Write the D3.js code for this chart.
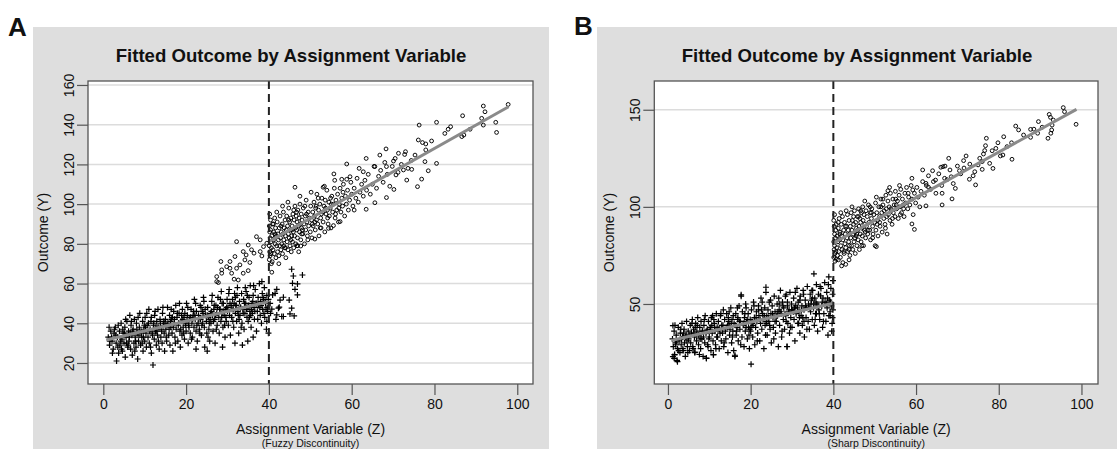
<!DOCTYPE html>
<html>
<head>
<meta charset="utf-8">
<script src="https://cdn.jsdelivr.net/npm/d3@7"></script>
<style>
  body { margin: 0; background: #fff; }
  svg text { font-family: "Liberation Sans", Arial, Helvetica, sans-serif; fill: #111; }
</style>
</head>
<body>
<script>
(function(){

  //tick values and labels
  var xTicks = [0, 20, 40, 60, 80, 100];
  var yTicksA = [20, 40, 60, 80, 100, 120, 140, 160];
  var yTicksB = [50, 100, 150];
  var cutoff = 40;

  var titleText = "Fitted Outcome by Assignment Variable";
  var xTitle = "Assignment Variable (Z)";
  var yTitle = "Outcome (Y)";
  var noteA = "(Fuzzy Discontinuity)";
  var noteB = "(Sharp Discontinuity)";

  //fitted lines [z, y]
  var fitLeftA = [[0.7,31.6],[40,50.9]];
  var fitRightA = [[40,81.1],[97.9,149]];
  var fitLeftB = [[0.8,31.2],[40,50.4]];
  var fitRightB = [[40,81.3],[98.8,150.2]];

  //panel A: untreated (+) points
  var crossesA = [
    [1.2,33],[1.5,29],[1.8,36],[2.1,31],[2.4,27],[2.6,35],[2.9,38],[3.1,30],[3.2,21],[3.4,33],[3.7,25],[3.9,36],[4.0,29],[4.3,40],[4.5,32],[4.6,26],[4.8,35],[5.0,30],[5.2,38],[5.3,23],[5.5,33],[5.7,41],[5.9,28],
    [6.1,36],[6.2,31],[6.4,44],[6.6,27],[6.7,39],[6.9,34],[7.0,24],[7.2,37],[7.4,30],[7.5,42],[7.7,33],[7.9,28],[8.0,40],[8.2,35],[8.3,22],[8.5,31],[8.7,38],[8.8,45],[9.0,29],[9.1,36],[9.3,33],[9.5,41],[9.6,26],[9.8,37],[10.0,31],[10.1,43],[10.3,35],[10.4,28],[10.6,39],[10.8,33],
    [11.0,47],[11.1,30],[11.3,37],[11.5,41],[11.6,25],[11.8,35],[12.0,19],[12.1,39],[12.3,32],[12.4,44],[12.6,36],[12.8,29],[12.9,41],[13.1,34],[13.2,47],[13.4,38],[13.5,27],[13.7,42],[13.9,33],[14.0,37],[14.2,30],[14.3,45],[14.5,39],[14.7,35],[14.8,26],[15.0,42],[15.1,37],[15.3,31],[15.5,48],[15.6,40],[15.8,34],
    [16.0,44],[16.1,29],[16.3,38],[16.5,42],[16.6,35],[16.8,26],[17.0,46],[17.1,40],[17.3,33],[17.5,49],[17.6,37],[17.8,43],[18.0,31],[18.1,39],[18.3,45],[18.5,36],[18.6,28],[18.8,41],[19.0,34],[19.1,47],[19.3,38],[19.5,43],[19.6,32],[19.8,40],[20.0,36],[20.1,50],[20.3,44],[20.5,30],[20.6,39],[20.8,42],
    [21.0,35],[21.2,47],[21.4,40],[21.5,33],[21.7,44],[21.9,38],[22.0,52],[22.2,42],[22.4,36],[22.5,46],[22.7,31],[22.9,40],[23.0,44],[23.2,37],[23.4,49],[23.5,42],[23.7,34],[23.9,46],[24.0,40],[24.2,53],[24.4,38],[24.5,28],[24.7,44],[24.9,41],[25.0,35],[25.2,48],[25.4,43],[25.5,37],[25.7,31],[25.9,45],
    [26.0,40],[26.2,51],[26.4,44],[26.5,36],[26.7,47],[26.9,42],[27.0,30],[27.2,49],[27.4,45],[27.5,39],[27.7,53],[27.9,43],[28.0,35],[28.2,47],[28.4,41],[28.5,56],[28.7,45],[28.9,38],[29.0,50],[29.2,44],[29.4,33],[29.5,47],[29.7,41],[29.9,52],[30.0,46],[30.2,39],[30.4,57],[30.5,44],[30.7,34],[30.9,49],
    [31.0,43],[31.2,52],[31.4,47],[31.5,38],[31.7,55],[31.9,45],[32.0,49],[32.2,41],[32.4,58],[32.5,46],[32.7,35],[32.9,51],[33.0,44],[33.2,48],[33.4,55],[33.5,40],[33.7,47],[33.9,52],[34.0,37],[34.2,45],[34.4,50],[34.5,56],[34.7,43],[34.9,48],[35.0,41],[35.2,53],[35.4,46],[35.5,59],[35.7,38],[35.9,50],
    [36.0,45],[36.2,54],[36.4,48],[36.5,42],[36.7,57],[36.9,50],[37.0,36],[37.2,46],[37.4,53],[37.5,49],[37.7,60],[37.9,44],[38.0,51],[38.2,40],[38.4,55],[38.5,47],[38.7,52],[38.9,58],[39.0,43],[39.2,50],[39.4,37],[39.5,54],[39.7,46],[39.9,35],[39.9,52],
    [22.4,27],[25.1,26],[33.6,29],[36.2,33],[34.9,31],[31.8,30],[28.8,28],
    [2.0,33],[3.0,34],[4.2,31],[5.1,35],[6.3,33],[7.1,36],[8.1,37],[9.2,35],[10.2,38],[11.2,36],[12.2,40],[13.0,38],[13.8,40],[14.6,41],[15.4,39],[16.2,41],[17.2,42],[18.2,40],[19.2,42],[20.2,41],[21.1,43],[22.1,44],[23.1,42],[24.1,45],[25.1,44],[26.1,46],[27.1,44],[28.1,47],[29.1,46],[30.1,48],[31.1,47],[32.1,49],[33.1,48],[34.1,50],[35.1,49],[36.1,51],[37.1,50],[38.1,49],[39.1,51],
    [1.6,31],[4.7,37],[7.8,31],[9.9,39],[11.9,34],[14.1,36],[16.9,38],[18.9,44],[20.7,38],[22.6,39],[24.6,47],[26.6,41],[28.6,43],[30.6,50],[32.6,44],[34.6,47],[36.6,46],[38.6,53],[39.6,48],
    [2.7,37],[5.6,30],[8.6,34],[10.9,40],[12.7,38],[15.9,37],[17.9,45],[19.7,45],[21.6,42],[23.6,48],[25.6,40],[27.6,48],[29.6,43],[31.6,50],[33.8,45],[35.8,47],[37.8,48],[39.3,47],
    [1.4,38],[2.2,25],[3.6,39],[4.4,27],[5.4,42],[6.0,29],[6.8,41],[7.6,26],[8.4,43],[9.4,30],[10.5,45],[11.4,28],[12.5,46],[13.3,31],[14.4,48],[15.2,33],[16.4,47],[17.4,30],[18.4,50],[19.4,35],[20.4,48],[21.3,32],[22.3,50],[23.3,35],[24.3,51],[25.3,33],[26.3,54],[27.3,37],[28.3,52],[29.3,39],[30.3,55],[31.3,41],[32.3,54],[33.3,38],[34.3,58],[35.3,43],[36.3,59],[37.3,42],[38.3,61],[39.5,41],
    [3.5,28],[6.5,35],[9.7,33],[12.9,36],[16.7,43],[19.9,39],[23.8,39],[26.8,49],[29.8,48],[32.8,42],[35.6,44],[38.8,45],[11.6,43],[14.9,40],[18.7,37],[21.8,46],[25.8,42],[28.7,50],[31.9,53],[34.8,54],
    //fuzzy: untreated beyond the cutoff
    [45.5,67.2],[45.9,63.8],[48.1,64.3],[45.7,60.1],[46.9,59.8],[46.3,57.1],[46.9,54.3],[44.9,51.7],[43.5,53.1],[42.7,51.7],[41.9,57.1],[41.5,55.1],[40.9,54.3],[42.5,48.1],[40.7,47.1],[41.9,44.2],[43.1,43.4],[41.7,42],[45.5,47.6],[46.1,43.7],[45.1,44.7],[40.3,50],[40.4,45],[42.3,47.6],[43.5,43.4]
  ];

  //panel A: treated (o) points
  var circlesA = [
    //fuzzy: treated before the cutoff
    [32.2,81.1],[35,79.4],[37.9,82],[37,83.6],[38.7,78.6],[35.8,77],[33.8,76.1],[31.8,73.6],[34.2,71.9],[30.6,71.1],[29.8,68.5],[28.6,66.9],[27.4,63.5],[27.8,60.5],[31.6,62.2],[32.6,61.8],[33.8,65.2],[35,66.5],[31,65.2],[32.2,67.7],[28.4,71.1],[34.5,74.4],[36.4,75.3],[37.9,76.1],[39.5,80.3],[28.6,65.2],[35.4,70.6],[33,69.4],[30.6,67.7],[27.4,61],[38.3,73.9],
    [40.1,72],[40.2,76],[40.1,79],[40.3,83],[40.2,86],[40.1,89],[40.4,92],[40.3,74],[40.5,81],[40.6,78],[40.4,87],[40.7,84],[40.8,71],[40.9,90],[41.0,77],[41.1,82],[41.2,86],[41.3,75],[41.4,93],[41.5,80],[41.6,88],[41.7,73],[41.8,84],[41.9,79],[42.0,91],[42.1,76],[42.2,85],[42.3,82],[42.4,70],[42.5,88],[42.6,79],[42.7,94],[42.8,83],[42.9,77],[43.0,86],
    [43.1,80],[43.2,90],[43.3,75],[43.4,85],[43.5,96],[43.6,82],[43.7,88],[43.8,78],[43.9,92],[44.0,84],[44.1,73],[44.2,87],[44.3,94],[44.4,81],[44.5,89],[44.6,77],[44.7,85],[44.8,98],[44.9,83],[45.0,91],[45.1,79],[45.2,87],[45.3,93],[45.4,76],[45.5,84],[45.6,89],[45.7,81],[45.8,95],[45.9,86],[46.0,78],
    [46.1,92],[46.2,84],[46.3,99],[46.4,88],[46.5,80],[46.6,94],[46.7,87],[46.8,91],[46.9,83],[47.0,97],[47.1,89],[47.2,76],[47.3,93],[47.4,86],[47.5,100],[47.6,90],[47.7,82],[47.8,95],[47.9,88],[48.0,92],[48.2,85],[48.3,98],[48.5,90],[48.6,80],[48.8,94],[48.9,87],[49.0,102],[49.2,91],[49.3,84],[49.5,96],[49.6,89],[49.8,93],[50.0,86],[50.1,99],[50.3,92],
    [50.4,83],[50.6,96],[50.7,89],[50.9,101],[51.0,94],[51.2,87],[51.3,98],[51.5,92],[51.6,105],[51.8,90],[52.0,97],[52.1,84],[52.3,100],[52.5,93],[52.6,88],[52.8,103],[53.0,96],[53.1,91],[53.3,99],[53.5,86],[53.6,102],[53.8,95],[54.0,107],[54.1,97],[54.3,90],[54.5,101],[54.6,94],[54.8,98],[55.0,88],[55.2,104],
    [55.4,96],[55.6,100],[55.8,108],[56.0,93],[56.2,102],[56.4,97],[56.6,105],[56.8,91],[57.0,100],[57.2,108],[57.4,96],[57.6,103],[57.8,99],[58.0,110],[58.3,94],[58.5,104],[58.7,100],[59.0,107],[59.2,97],[59.5,102],[59.8,111],[60.0,105],[60.3,99],[60.6,108],[61.0,103],[61.3,113],[61.6,101],[62.0,106],[62.4,110],[62.8,104],
    [63.2,112],[63.6,107],[64.0,115],[64.5,105],[65.0,110],[65.4,119],[66.0,108],[66.5,114],[67.0,117],[67.6,111],[68.0,121],[68.6,115],[69.2,109],[69.8,119],[70.5,123],[71.2,116],[72.0,120],[72.8,125],[73.6,118],[74.4,122],
    [40.2,95],[40.6,70],[41.1,90],[41.9,96],[42.4,74],[43.3,99],[44.0,78],[44.6,101],[45.3,82],[46.0,97],[46.8,79],[47.5,104],[48.1,87],[48.7,99],[49.4,82],[50.2,106],[51.1,91],[51.9,103],[52.7,95],[53.4,109],[54.2,93],[55.1,100],[55.9,112],[56.9,98],[57.9,106],[40.5,75],[41.5,85],[42.9,89],[43.6,79],[44.8,92],[45.6,87],[46.7,96],[47.9,85],[49.1,95],[50.5,90],[51.4,99],[52.4,88],[53.7,98],[54.9,103],[56.1,95],
    [97.8,150.2],[91.8,149.4],[92.2,146.5],[91.4,143.2],[91.8,139.8],[94.8,141.2],[95.0,136.1],[86.8,144.5],[86.6,134],[87.1,134.8],[88.6,137.7],[80.5,141.2],[76.3,139.8],[83.9,139],[83.3,137.7],[82.5,135.6],[79.3,131.8],[76.1,132.3],[77.1,131],[77.9,130.3],[77.9,127.3],[80.5,120.5],[78.5,116.8],[76.9,112.6],[75.9,108.8],[77.7,121.4],[75.3,124.7],[73.0,126.4],[71.3,125.6],[68.3,127.8],[66.8,124.7],[63.5,123],[58.8,120.2],[70.1,121.7],[68.4,118.9],[65.6,118.9],[61.8,118],[62.8,116.3],[59.6,113.8],[57.6,112.5],[55.7,115.2],[58.8,112.5],[53.1,108.5],[46.3,108.5],[70.7,114.7],[72.5,117.2],[74.5,117.5],[73.3,112.1],[70.2,107.4],[68.4,103.3],[65.6,100.7],[63.5,97.4],[60.6,97],[57.2,91.2],[55.6,89.2],[54.4,87.8],[51.1,82.4],[47.7,78.9],[46.9,79.1],[40.7,65.7]
  ];

  //panel B: untreated (+) points
  var crossesB = [
    [1.1,32],[1.3,28],[1.5,36],[1.6,24],[1.8,30],[2.0,34],[2.2,21],[2.3,27],[2.5,38],[2.7,31],[2.9,25],[3.0,35],[3.2,29],[3.4,40],[3.5,33],[3.7,26],[3.9,37],[4.0,30],[4.2,23],[4.4,34],[4.5,41],[4.7,28],[4.9,36],[5.0,32],
    [5.2,26],[5.4,39],[5.5,30],[5.7,35],[5.9,42],[6.0,28],[6.2,37],[6.4,33],[6.5,25],[6.7,40],[6.9,31],[7.0,36],[7.2,43],[7.4,29],[7.5,34],[7.7,38],[7.9,27],[8.0,41],[8.2,32],[8.4,36],[8.5,23],[8.7,39],[8.9,30],[9.0,44],[9.2,35],[9.3,22],[9.5,37],[9.7,28],[9.8,41],[10.0,33],
    [10.2,38],[10.4,26],[10.5,43],[10.7,35],[10.9,31],[11.0,24],[11.2,40],[11.4,36],[11.5,29],[11.7,45],[11.9,38],[12.0,33],[12.2,41],[12.4,27],[12.5,37],[12.7,44],[12.9,31],[13.0,39],[13.2,35],[13.4,47],[13.5,28],[13.7,42],[13.9,36],[14.0,32],[14.2,45],[14.4,39],[14.5,25],[14.7,41],[14.9,34],[15.0,37],
    [15.2,48],[15.4,30],[15.5,42],[15.7,36],[15.9,26],[16.0,40],[16.2,23],[16.4,45],[16.5,34],[16.7,38],[16.9,43],[17.0,31],[17.2,49],[17.4,37],[17.5,41],[17.7,54],[17.9,33],[18.0,46],[18.2,39],[18.4,28],[18.5,43],[18.7,36],[18.9,48],[19.0,41],[19.2,32],[19.4,45],[19.5,38],[19.7,27],[19.9,42],[20.1,19],
    [20.0,36],[20.2,47],[20.4,40],[20.5,33],[20.7,51],[20.9,43],[21.0,29],[21.2,38],[21.4,46],[21.5,41],[21.7,35],[21.9,49],[22.0,44],[22.2,31],[22.4,40],[22.5,53],[22.7,37],[22.9,45],[23.0,42],[23.2,27],[23.4,48],[23.5,39],[23.7,56],[23.9,44],[24.0,34],[24.2,47],[24.4,41],[24.5,51],[24.7,37],[24.9,45],
    [25.0,30],[25.2,49],[25.4,43],[25.5,38],[25.7,54],[25.9,46],[26.0,35],[26.2,41],[26.4,50],[26.5,44],[26.7,28],[26.9,47],[27.0,39],[27.2,57],[27.4,45],[27.5,33],[27.7,51],[27.9,42],[28.0,48],[28.2,37],[28.4,54],[28.5,44],[28.8,28],[28.9,49],[29.0,40],[29.2,46],[29.4,35],[29.5,56],[29.7,43],[29.9,50],
    [30.0,38],[30.2,47],[30.4,53],[30.5,42],[30.7,31],[30.9,49],[31.0,45],[31.2,58],[31.4,40],[31.5,51],[31.7,46],[31.9,35],[32.0,54],[32.2,44],[32.4,49],[32.5,39],[32.7,57],[32.9,47],[33.0,33],[33.2,52],[33.4,43],[33.5,48],[33.7,59],[33.9,41],[34.0,50],[34.2,37],[34.4,55],[34.5,46],[34.7,52],[34.9,42],
    [35.0,57],[35.3,65.5],[35.2,48],[35.4,39],[35.5,53],[35.7,45],[35.9,60],[36.0,50],[36.2,36],[36.4,55],[36.5,47],[36.7,42],[36.9,54.2],[37.0,58],[37.2,49],[37.4,38],[37.5,53],[37.7,45],[37.9,61],[38.0,51],[38.2,41],[38.4,56],[38.5,48],[38.7,34],[38.9,64],[39.0,52],[39.2,44],[39.4,58],[39.5,49],[39.7,40],[39.8,55],[39.9,47],[39.9,62],[39.6,36],
    [2.1,31],[3.3,32],[4.3,33],[5.3,34],[6.3,35],[7.3,34],[8.3,36],[9.4,36],[10.3,37],[11.3,38],[12.3,37],[13.3,39],[14.3,38],[15.3,40],[16.3,39],[17.3,41],[18.3,40],[19.3,42],[20.3,41],[21.3,43],[22.3,42],[23.3,44],[24.3,43],[25.3,45],[26.3,44],[27.3,46],[28.3,45],[29.3,47],[30.3,46],[31.3,48],[32.3,47],[33.3,49],[34.3,48],[35.3,50],[36.3,49],[37.3,51],[38.3,50],[39.3,51],
    [1.9,29],[4.6,31],[6.6,38],[8.6,33],[10.6,39],[12.6,35],[14.6,43],[16.6,36],[18.6,45],[20.6,39],[22.6,47],[24.6,39],[26.6,46],[28.6,41],[30.6,48],[32.6,43],[34.6,50],[36.6,45],[38.6,53],
    [3.8,35],[7.8,32],[11.8,33],[15.8,44],[19.8,37],[23.8,41],[27.8,49],[31.8,43],[35.8,51],[39.2,46],
    [1.7,39],[2.6,26],[3.1,37],[4.8,25],[5.8,40],[6.1,27],[7.1,39],[7.6,24],[8.8,42],[9.6,29],[10.8,44],[11.6,27],[12.8,45],[13.6,30],[14.8,46],[15.6,33],[16.8,48],[17.6,29],[18.8,50],[19.6,34],[20.8,49],[21.6,31],[22.8,51],[23.6,34],[24.8,52],[25.6,32],[26.8,53],[27.6,36],[28.6,55],[29.6,38],[30.8,56],[31.6,40],[32.8,55],[33.6,37],[34.8,57],[35.6,42],[36.8,59],[37.6,41],[38.8,60],[39.8,43],
    [3.6,27],[6.8,34],[9.9,32],[13.1,37],[16.9,42],[20.1,38],[23.9,40],[26.9,50],[29.9,47],[32.9,41],[35.9,45],[38.9,44],[11.1,42],[14.8,39],[18.9,38],[21.9,47],[25.9,41],[28.9,51],[31.9,52],[34.9,53],
    [1.2,22.9],[1.6,23.8],[9.3,22.1],[16.2,23.6],[28.8,28.1],[11,23.8],[6.5,25.2],[1.5,22],[2.3,20.3],[23.7,58.6],[17.7,54.7],[1.2,38.9]
  ];

  //panel B: treated (o) points
  var circlesB = [
    [40.1,74],[40.2,78],[40.1,82],[40.3,86],[40.2,90],[40.1,93],[40.4,76],[40.3,80],[40.5,84],[40.6,88],[40.4,72],[40.7,91],[40.8,79],[40.9,85],[41.0,75],[41.1,82],[41.2,89],[41.3,77],[41.4,94],[41.5,83],[41.6,87],[41.7,74],[41.8,80],[41.9,91],[42.0,85],[42.1,78],[42.2,95],[42.3,83],[42.5,88],[42.6,76],[42.7,92],[42.8,81],[42.9,86],[43.0,79],
    [43.2,90],[43.3,84],[43.4,96],[43.5,77],[43.6,88],[43.7,82],[43.8,93],[43.9,86],[44.0,75],[44.1,90],[44.2,84],[44.3,97],[44.4,80],[44.5,88],[44.6,93],[44.7,78],[44.8,86],[44.9,91],[45.0,82],[45.1,98],[45.2,87],[45.3,76],[45.4,92],[45.5,85],[45.6,89],[45.7,80],[45.8,95],[45.9,88],[46.0,83],
    [46.1,99],[46.2,90],[46.3,78],[46.4,94],[46.5,86],[46.6,92],[46.7,82],[46.8,97],[46.9,89],[47.0,85],[47.1,100],[47.2,93],[47.3,80],[47.4,96],[47.5,88],[47.6,91],[47.8,84],[47.9,98],[48.0,90],[48.2,95],[48.3,86],[48.5,101],[48.6,92],[48.8,88],[48.9,97],[49.0,83],[49.2,94],[49.3,99],[49.5,90],[49.6,86],[49.8,96],[50.0,92],
    [50.2,102],[50.3,88],[50.5,97],[50.7,93],[50.8,85],[51.0,100],[51.2,95],[51.3,90],[51.5,104],[51.7,97],[51.8,87],[52.0,101],[52.2,94],[52.3,98],[52.5,91],[52.7,106],[52.8,99],[53.0,86],[53.2,103],[53.3,96],[53.5,100],[53.7,93],[53.8,107],[54.0,98],[54.2,91],[54.4,104],[54.5,97],[54.7,101],[54.9,95],[55.0,108],
    [55.3,99],[55.5,103],[55.7,94],[55.9,106],[56.1,100],[56.3,109],[56.5,97],[56.7,104],[56.9,101],[57.1,95],[57.3,107],[57.5,102],[57.7,110],[58.0,99],[58.2,105],[58.5,101],[58.8,111],[59.0,104],[59.3,96],[59.6,107],[59.9,102],[60.2,110],[60.5,105],[60.9,100],[61.2,108],[61.6,113],[62.0,106],[62.5,111],
    [63.0,116],[63.5,109],[64.2,113],[64.8,107],[65.5,117],[66.2,111],[67.0,121],[67.5,114],[68.2,119],[69.0,112],[70.0,121],[70.8,117],[71.6,120],[73.0,122],[73.8,116],[75.4,125],[76.6,129],[79.8,133],[82.0,131],[86.0,137],[88.5,140],[90.5,141],
    [40.3,96],[40.7,73],[41.2,92],[41.8,97],[42.5,77],[43.1,98],[43.9,80],[44.5,100],[45.2,84],[46.1,95],[46.9,80],[47.6,103],[48.4,88],[48.9,100],[49.5,84],[50.4,105],[51.2,92],[52.0,104],[52.9,95],[53.6,110],[54.3,94],[55.2,101],[56.0,111],[57.0,99],[58.1,107],[40.6,77],[41.6,86],[42.9,90],[43.8,78],[44.9,95],[45.7,86],[46.6,98],[47.7,87],[49.2,97],[50.6,91],[51.5,100],[52.6,89],[53.9,99],[55.1,104],[56.2,96],
    [95.6,151.1],[95.9,149],[92.2,147.6],[92.5,146.1],[93.2,144.7],[92.9,142.1],[92.8,139.6],[92.6,137.9],[91.9,135.3],[98.7,142.5],[89.6,143.9],[87.7,139.9],[87.7,135.8],[89.4,137.9],[84.1,141.6],[84.8,139.6],[83.1,133.0],[81.2,136.1],[83.2,124.5],[81.0,126.7],[80.4,126.2],[79.3,130.1],[78.4,128.9],[76.8,131.5],[77.0,135.3],[76.3,127.2],[78.6,119.8],[77.8,122.4],[76.0,123.3],[75.0,121.6],[76.0,119.3],[74.2,118.1],[74.4,111.3],[72.9,114.2],[71.5,123.8],[72.1,126.2],[70.5,118.6],[69.5,109.5],[67.9,125],[68.5,115.5],[66.5,120.7],[66.0,120.4],[66.9,114.7],[68.7,104.1],[66.3,101],[66.3,107],[64.0,118.6],[64.7,113.8],[61.6,119],[62.4,112.1],[63.0,110.1],[59.0,114.7],[59.2,108.7],[62.4,100.5],[59.0,91.2],[59.6,88.4],[53.2,108.3],[50.1,80],[50.4,79.5],[43.8,72.7],[42.3,71.3],[42.0,69.6],[43.0,70.4],[41.2,72.7]
  ];

  var svg = d3.select("body").append("svg")
      .attr("width", 1117)
      .attr("height", 449);

  //panel letters
  svg.append("text").attr("x", 8).attr("y", 36)
      .style("font-size", "26px").style("font-weight", "bold").text("A");
  svg.append("text").attr("x", 574).attr("y", 35)
      .style("font-size", "26px").style("font-weight", "bold").text("B");

  setPanel({
    box: [33, 27, 549, 449], plot: [88, 81, 533, 384],
    xDomain: [-3.7, 103.8], yDomain: [9.42, 162], yTicks: yTicksA,
    crosses: crossesA, circles: circlesA, fits: [fitLeftA, fitRightA], note: noteA
  });
  setPanel({
    box: [597, 27, 1117, 449], plot: [654.3, 81, 1098, 384],
    xDomain: [-3.3, 104.0], yDomain: [8.8, 164.8], yTicks: yTicksB,
    crosses: crossesB, circles: circlesB, fits: [fitLeftB, fitRightB], note: noteB
  });

function setPanel(p){
  var left = p.plot[0], top = p.plot[1], right = p.plot[2], bottom = p.plot[3];

  var x = d3.scaleLinear().domain(p.xDomain).range([left, right]);
  var y = d3.scaleLinear().domain(p.yDomain).range([bottom, top]);

  //grey graph region
  svg.append("rect")
      .attr("x", p.box[0]).attr("y", p.box[1])
      .attr("width", p.box[2] - p.box[0]).attr("height", p.box[3] - p.box[1])
      .attr("fill", "#dedede");

  //white plot region
  svg.append("rect")
      .attr("x", left).attr("y", top)
      .attr("width", right - left).attr("height", bottom - top)
      .attr("fill", "#fff");

  //horizontal grid lines
  svg.selectAll(null)
      .data(p.yTicks)
      .enter()
      .append("line")
      .attr("x1", left).attr("x2", right)
      .attr("y1", function(d){ return y(d); })
      .attr("y2", function(d){ return y(d); })
      .attr("stroke", "#dcdcdc")
      .attr("stroke-width", 1.5);

  var g = svg.append("g");

  //untreated points drawn as plus signs
  g.selectAll(".cross")
      .data(p.crosses)
      .enter()
      .append("path")
      .attr("class", "cross")
      .attr("d", function(d){
        var cx = x(d[0]), cy = y(d[1]);
        return "M" + (cx - 3) + "," + cy + "H" + (cx + 3) + "M" + cx + "," + (cy - 3) + "V" + (cy + 3);
      })
      .attr("stroke", "#000")
      .attr("stroke-width", 1.2)
      .attr("fill", "none");

  //treated points drawn as hollow circles
  g.selectAll(".circ")
      .data(p.circles)
      .enter()
      .append("circle")
      .attr("class", "circ")
      .attr("cx", function(d){ return x(d[0]); })
      .attr("cy", function(d){ return y(d[1]); })
      .attr("r", 1.9)
      .attr("fill", "none")
      .attr("stroke", "#000")
      .attr("stroke-width", 0.95);

  //fitted lines
  var line = d3.line()
      .x(function(d){ return x(d[0]); })
      .y(function(d){ return y(d[1]); });

  g.selectAll(".fit")
      .data(p.fits)
      .enter()
      .append("path")
      .attr("class", "fit")
      .attr("d", line)
      .attr("fill", "none")
      .attr("stroke", "#8a8a8a")
      .attr("stroke-width", 3);

  //cutoff line
  svg.append("line")
      .attr("x1", x(cutoff)).attr("x2", x(cutoff))
      .attr("y1", top).attr("y2", bottom)
      .attr("stroke", "#222")
      .attr("stroke-width", 2)
      .attr("stroke-dasharray", "8,5");

  //plot border
  svg.append("rect")
      .attr("x", left).attr("y", top)
      .attr("width", right - left).attr("height", bottom - top)
      .attr("fill", "none")
      .attr("stroke", "#555")
      .attr("stroke-width", 1.3);

  //x axis
  var xAxis = svg.append("g")
      .attr("transform", "translate(0," + bottom + ")")
      .call(d3.axisBottom(x).tickValues(xTicks).tickSize(11).tickPadding(4));
  xAxis.select(".domain").remove();
  xAxis.selectAll("line").attr("stroke", "#555").attr("stroke-width", 1.2);
  xAxis.selectAll("text").style("font-size", "14px").attr("fill", "#111")
      .style("font-family", "'Liberation Sans', Arial, sans-serif");

  //y axis with vertical labels
  var yAxis = svg.append("g")
      .attr("transform", "translate(" + left + ",0)")
      .call(d3.axisLeft(y).tickValues(p.yTicks).tickSize(11));
  yAxis.select(".domain").remove();
  yAxis.selectAll("line").attr("stroke", "#555").attr("stroke-width", 1.2);
  yAxis.selectAll("text")
      .attr("x", null).attr("dy", null)
      .attr("text-anchor", "middle")
      .attr("transform", "translate(-14,0) rotate(-90)")
      .style("font-size", "14px").attr("fill", "#111")
      .style("font-family", "'Liberation Sans', Arial, sans-serif");

  var mid = (p.box[0] + p.box[2]) / 2;
  var plotMid = (left + right) / 2;

  //titles
  svg.append("text")
      .attr("x", mid).attr("y", 62)
      .attr("text-anchor", "middle")
      .style("font-size", "18.6px").style("font-weight", "bold")
      .text(titleText);

  svg.append("text")
      .attr("x", plotMid).attr("y", 434)
      .attr("text-anchor", "middle")
      .style("font-size", "14px")
      .text(xTitle);

  svg.append("text")
      .attr("x", plotMid).attr("y", 446.5)
      .attr("text-anchor", "middle")
      .style("font-size", "10.5px")
      .text(p.note);

  svg.append("text")
      .attr("transform", "translate(" + (left - 40) + "," + ((top + bottom) / 2) + ") rotate(-90)")
      .attr("text-anchor", "middle")
      .style("font-size", "14px")
      .text(yTitle);
};

})();
</script>
</body>
</html>
